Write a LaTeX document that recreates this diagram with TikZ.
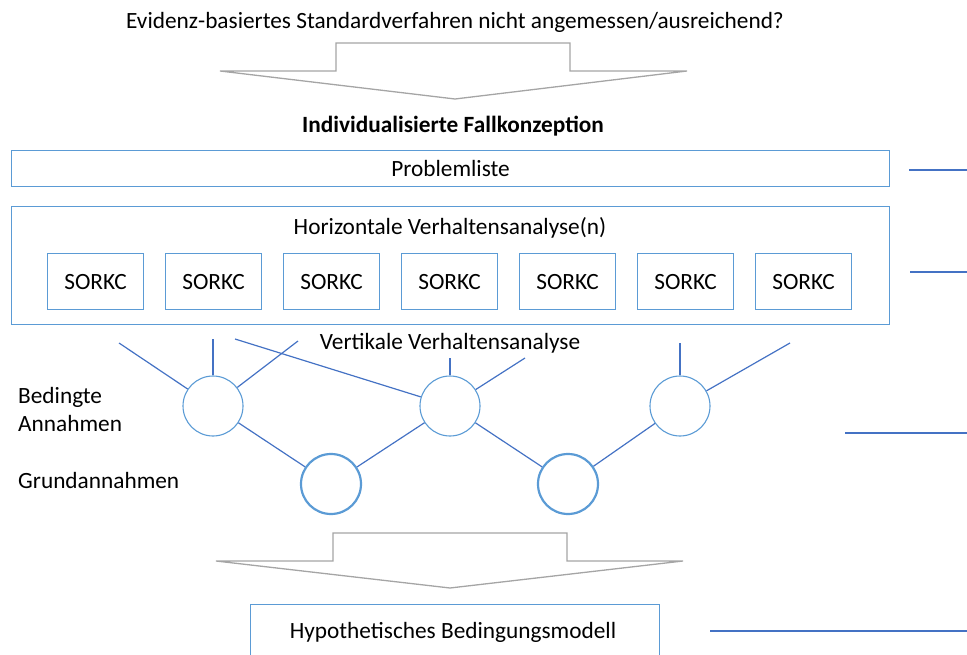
\documentclass[tikz,border=0pt]{standalone}
\usepackage{fontspec}
\setmainfont{Carlito}
\definecolor{boxblue}{HTML}{5B9BD5}
\definecolor{lineblue}{HTML}{4472C4}
\definecolor{arrowgray}{HTML}{A5A5A5}
\tikzset{
  txt/.style={font=\fontsize{23.3}{28}\selectfont, inner sep=0pt},
  boxstyle/.style={draw=boxblue, line width=1.1pt, inner sep=0pt, anchor=north west},
  sorkc/.style={boxstyle, txt, minimum width=96pt, minimum height=56pt},
  circ/.style={circle, draw=boxblue, line width=1.1pt, minimum size=60pt, inner sep=0pt},
  thickcirc/.style={circ, line width=2.2pt},
  conn/.style={draw=lineblue, line width=1.2pt},
  bigarrow/.style={draw=arrowgray, line width=1.3pt, line join=miter},
  sideline/.style={draw=lineblue, line width=1.5pt}
}
\begin{document}
\begin{tikzpicture}[x=1pt,y=-1pt]
\useasboundingbox (0,0) rectangle (967,655);
% title
\node[txt] (title) at (455,22) {Evidenz-basiertes Standardverfahren nicht angemessen/ausreichend?};
% arrow 1
\draw[bigarrow] (220,71) -- (336,71) -- (336,43) -- (570,43) -- (570,71) -- (687,71) -- (455,99) -- cycle;
\node[txt, font=\fontsize{23.3}{28}\selectfont\bfseries] (fall) at (453,126) {Individualisierte Fallkonzeption};
% problem list
\node[boxstyle, txt, minimum width=878pt, minimum height=36pt] (prob) at (11,150) {Problemliste};
% horizontal
\node[boxstyle, minimum width=878pt, minimum height=118pt] (horiz) at (11,206) {};
\node[txt] (horiztxt) at (450,228) {Horizontale Verhaltensanalyse(n)};
\foreach \i [count=\n] in {0,...,6}
  \node[sorkc] (s\n) at ({47+118*\i},253) {SORKC};
\node[txt] (vert) at (450,343) {Vertikale Verhaltensanalyse};
% circles
\node[circ] (c1) at (213,406) {};
\node[circ] (c2) at (450,406) {};
\node[circ] (c3) at (680,406) {};
\node[thickcirc] (c4) at (331,484) {};
\node[thickcirc] (c5) at (568,484) {};
% free ends
\coordinate (a1) at (119,343);
\coordinate (a2) at (213,339);
\coordinate (a3) at (298,341);
\coordinate (a4) at (235,339);
\coordinate (a5) at (450,358);
\coordinate (a6) at (525,358);
\coordinate (a7) at (680,343);
\coordinate (a8) at (790,343);
\draw[conn] (a1) -- (c1);
\draw[conn] (a2) -- (c1);
\draw[conn] (a3) -- (c1);
\draw[conn] (a4) -- (c2);
\draw[conn] (a5) -- (c2);
\draw[conn] (a6) -- (c2);
\draw[conn] (a7) -- (c3);
\draw[conn] (a8) -- (c3);
\draw[conn] (c1) -- (c4);
\draw[conn] (c2) -- (c4);
\draw[conn] (c2) -- (c5);
\draw[conn] (c3) -- (c5);
% labels
\node[txt, align=left, anchor=west] (bed) at (18,409) {Bedingte\\Annahmen};
\node[txt, anchor=west] (grund) at (18,480) {Grundannahmen};
% arrow 2
\draw[bigarrow] (216,561) -- (333,561) -- (333,533) -- (567,533) -- (567,561) -- (683,561) -- (450,588) -- cycle;
% bottom box
\node[boxstyle, minimum width=409pt, minimum height=60pt] (hyp) at (250,604) {};
\node[txt] (hyptxt) at (453,632) {Hypothetisches Bedingungsmodell};
% side lines
\coordinate (r1a) at (909,170); \coordinate (r1b) at (967,170);
\coordinate (r2a) at (910,272); \coordinate (r2b) at (967,272);
\coordinate (r3a) at (845,433); \coordinate (r3b) at (967,433);
\coordinate (r4a) at (710,631); \coordinate (r4b) at (967,631);
\draw[sideline] (r1a) -- (r1b);
\draw[sideline] (r2a) -- (r2b);
\draw[sideline] (r3a) -- (r3b);
\draw[sideline] (r4a) -- (r4b);
\end{tikzpicture}
\end{document}
